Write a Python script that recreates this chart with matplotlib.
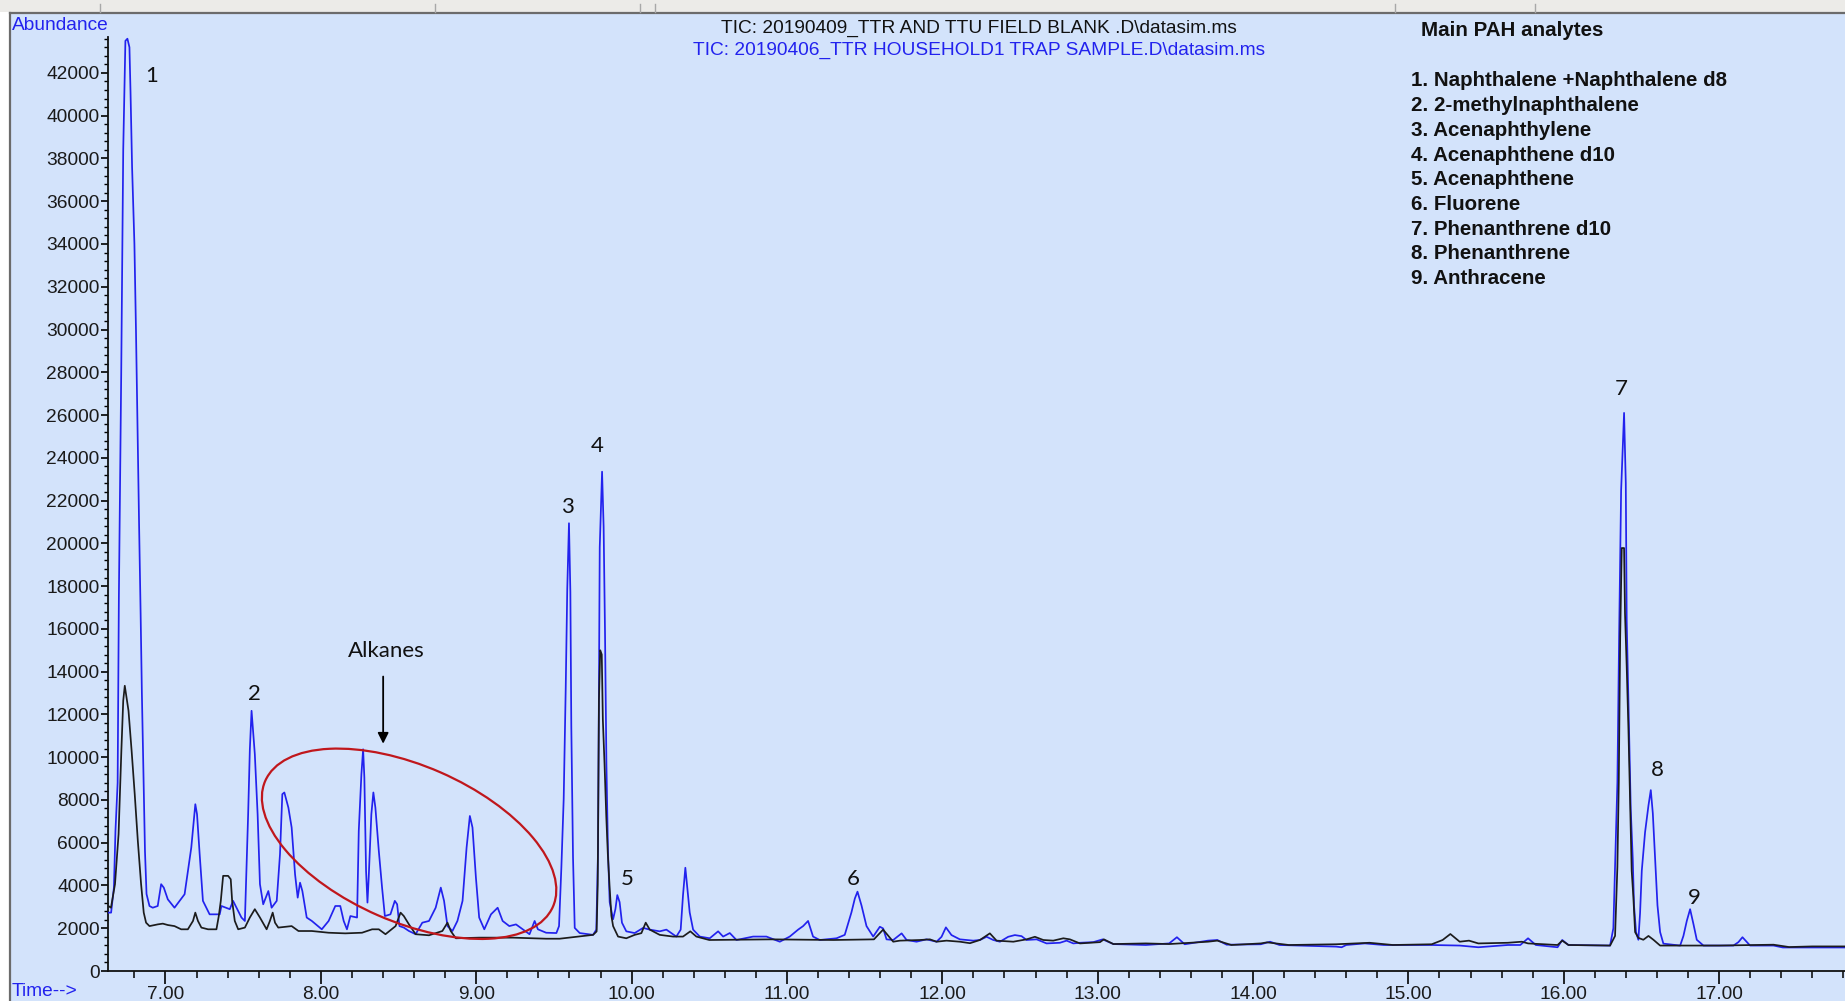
import matplotlib
matplotlib.use('Agg')
import matplotlib.pyplot as plt
from matplotlib.patches import Rectangle, Ellipse
from matplotlib.transforms import Affine2D
from matplotlib.ticker import MultipleLocator, FormatStrFormatter

# Хроматограмма: время (мин) и интенсивность
# образец (синяя линия)
sample_t = [6.62, 6.65, 6.668, 6.678, 6.692, 6.70, 6.715, 6.728, 6.742, 6.755, 6.768, 6.775, 6.785, 6.80,
            6.81, 6.82, 6.83, 6.84, 6.848, 6.858, 6.868, 6.878, 6.897, 6.918, 6.950, 6.972, 6.989, 7.015,
            7.058, 7.123, 7.166, 7.192, 7.203, 7.220, 7.241, 7.284, 7.349, 7.360, 7.414, 7.435, 7.489,
            7.511, 7.532, 7.543, 7.554, 7.565, 7.575, 7.593, 7.608, 7.629, 7.662, 7.683, 7.716, 7.737,
            7.752, 7.765, 7.791, 7.812, 7.834, 7.851, 7.866, 7.881, 7.909, 7.942, 8.006, 8.050, 8.093,
            8.125, 8.147, 8.168, 8.190, 8.233, 8.244, 8.261, 8.272, 8.280, 8.291, 8.300, 8.308, 8.325,
            8.338, 8.351, 8.373, 8.394, 8.412, 8.448, 8.476, 8.491, 8.506, 8.534, 8.567, 8.610, 8.653,
            8.696, 8.739, 8.772, 8.793, 8.815, 8.847, 8.879, 8.912, 8.938, 8.959, 8.976, 8.998, 9.019,
            9.052, 9.095, 9.138, 9.170, 9.213, 9.256, 9.300, 9.343, 9.376, 9.397, 9.45, 9.516, 9.533,
            9.548, 9.563, 9.576, 9.586, 9.597, 9.606, 9.612, 9.623, 9.634, 9.666, 9.752, 9.773, 9.784,
            9.795, 9.810, 9.820, 9.829, 9.838, 9.848, 9.859, 9.881, 9.896, 9.908, 9.923, 9.938, 9.966,
            10.020, 10.074, 10.117, 10.181, 10.224, 10.288, 10.316, 10.331, 10.346, 10.359, 10.374,
            10.396, 10.439, 10.503, 10.557, 10.589, 10.632, 10.675, 10.782, 10.868, 10.954, 11.018,
            11.072, 11.104, 11.136, 11.168, 11.211, 11.319, 11.372, 11.415, 11.437, 11.454, 11.480,
            11.512, 11.555, 11.598, 11.619, 11.641, 11.684, 11.738, 11.770, 11.834, 11.898, 11.963,
            11.995, 12.023, 12.059, 12.113, 12.199, 12.242, 12.285, 12.328, 12.371, 12.424, 12.467,
            12.510, 12.542, 12.607, 12.671, 12.757, 12.800, 12.843, 12.886, 12.972, 13.032, 13.101,
            13.31, 13.46, 13.51, 13.56, 13.71, 13.77, 13.83, 14.05, 14.11, 14.17, 14.535, 14.57, 14.60,
            14.72, 14.84, 15.15, 15.33, 15.45, 15.64, 15.72, 15.77, 15.82, 15.96, 15.99, 16.03, 16.298,
            16.319, 16.330, 16.345, 16.356, 16.369, 16.388, 16.399, 16.405, 16.420, 16.431, 16.444,
            16.452, 16.465, 16.480, 16.491, 16.502, 16.523, 16.545, 16.560, 16.573, 16.588, 16.603,
            16.620, 16.641, 16.749, 16.770, 16.792, 16.813, 16.835, 16.856, 16.899, 17.092, 17.124,
            17.150, 17.199, 17.350, 17.41, 17.478, 17.811]
sample_ab = [2730, 2730, 3900, 6550, 8800, 17500, 27900, 38400, 43500, 43600, 43200, 41100, 37600, 34000,
             30000, 25400, 20900, 16700, 13000, 9400, 5600, 3600, 3040, 2960, 3040, 4060, 3900, 3350,
             2960, 3590, 5770, 7800, 7330, 5460, 3280, 2650, 2650, 3040, 2890, 3280, 2500,
             2340, 7330, 10370, 12170, 11080, 10140, 7330, 4060, 3120, 3740, 2960, 3280, 5460,
             8270, 8350, 7640, 6710, 4520, 3430, 4130, 3740, 2500, 2340, 1950, 2340, 3040,
             3040, 2340, 1950, 2570, 2500, 6550, 9200, 10370, 9050, 4680, 3200, 4370, 7330,
             8350, 7640, 5620, 3900, 2570, 2650, 3280, 3120, 2100, 2030, 1870, 1720, 2260,
             2340, 2960, 3900, 3280, 2100, 1870, 2340, 3280, 5770, 7250, 6710, 4370, 2500,
             1950, 2650, 2960, 2340, 2100, 2180, 1950, 1720, 2340, 1950, 1790, 1775, 2100,
             4830, 8050, 13210, 17880, 20940, 17720, 11440, 5320, 2015, 1775, 1690, 1935, 5640,
             19810, 23350, 20780, 15790, 9670, 5640, 3220, 2420, 2900, 3550, 3220, 2260, 1855,
             1775, 2015, 1935, 1855, 1935, 1610, 1935, 3550, 4830, 3870, 2740,
             1935, 1610, 1530, 1855, 1610, 1775, 1450, 1610, 1610, 1370, 1610,
             1935, 2100, 2340, 1610, 1450, 1530, 1690, 2740, 3390, 3710, 3060,
             2100, 1610, 2070, 1990, 1480, 1450, 1760, 1450, 1370, 1480, 1370,
             1600, 2040, 1680, 1480, 1420, 1450, 1600, 1450, 1370, 1600, 1680,
             1630, 1450, 1480, 1290, 1320, 1420, 1290, 1320, 1350, 1480, 1260,
             1216, 1290, 1580, 1250, 1420, 1450, 1230, 1250, 1370, 1216, 1140, 1110, 1216,
             1290, 1216, 1216, 1190, 1110, 1216, 1216, 1530, 1216, 1110, 1450, 1216, 1190,
             2000, 4870, 8820, 15640, 22470, 26100, 22830, 16360, 11150, 7560, 5230,
             3070, 1820, 1460, 2710, 4690, 6480, 7740, 8460, 7380, 5230, 3070,
             1820, 1280, 1190, 1640, 2350, 2890, 2180, 1460, 1190, 1190, 1350,
             1580, 1190, 1190, 1100, 1100, 1100]

# полевой бланк (чёрная линия)
blank_t = [6.616, 6.649, 6.675, 6.698, 6.716, 6.728, 6.738, 6.746, 6.762, 6.782, 6.802, 6.822, 6.843,
           6.860, 6.875, 6.897, 6.950, 6.983, 7.015, 7.058, 7.101, 7.144, 7.177, 7.192, 7.209, 7.231,
           7.274, 7.328, 7.343, 7.356, 7.371, 7.403, 7.420, 7.429, 7.446, 7.468, 7.511, 7.543, 7.575,
           7.608, 7.651, 7.672, 7.690, 7.705, 7.726, 7.812, 7.856, 7.942, 8.050, 8.157, 8.265, 8.330,
           8.373, 8.416, 8.481, 8.513, 8.534, 8.567, 8.610, 8.696, 8.782, 8.815, 8.836, 8.869, 9.019,
           9.235, 9.450, 9.537, 9.752, 9.775, 9.782, 9.790, 9.798, 9.808, 9.815, 9.826, 9.837, 9.847,
           9.859, 9.870, 9.881, 9.913, 9.966, 10.020, 10.063, 10.091, 10.117, 10.181, 10.267, 10.331,
           10.378, 10.417, 10.50, 10.9, 11.3, 11.56, 11.619, 11.684, 11.727, 11.856, 11.920, 11.963,
           12.027, 12.113, 12.178, 12.242, 12.306, 12.349, 12.457, 12.542, 12.596, 12.650, 12.714,
           12.779, 12.821, 12.886, 13.015, 13.040, 13.101, 13.31, 13.46, 13.71, 13.77, 13.86, 14.05,
           14.09, 14.23, 14.535, 14.75, 14.90, 15.15, 15.22, 15.27, 15.33, 15.39, 15.45, 15.64, 15.73,
           15.77, 15.96, 15.99, 16.03, 16.298, 16.330, 16.345, 16.354, 16.363, 16.373, 16.388, 16.394,
           16.405, 16.416, 16.427, 16.437, 16.448, 16.459, 16.480, 16.512, 16.545, 16.577, 16.620,
           17.0, 17.35, 17.45, 17.6, 17.811]
blank_ab = [3120, 2960, 4060, 6400, 10300, 12640, 13340, 12950, 12170, 10300, 8270, 6080, 4060,
            2730, 2260, 2100, 2180, 2215, 2150, 2100, 1950, 1950, 2340, 2730, 2340, 2030,
            1950, 1950, 2570, 3280, 4450, 4450, 4290, 3280, 2340, 1950, 2030, 2500, 2890,
            2500, 1950, 2340, 2730, 2260, 2030, 2100, 1870, 1870, 1790, 1760, 1790, 1950,
            1950, 1720, 2100, 2730, 2570, 2180, 1720, 1670, 1870, 2260, 1870, 1530, 1560,
            1560, 1510, 1510, 1690, 1850, 4030, 12700, 15000, 14800, 11760, 9660, 7250, 5480,
            3870, 2580, 2100, 1610, 1530, 1690, 1770, 2260, 1935, 1690, 1610, 1610,
            1855, 1610, 1450, 1480, 1450, 1480, 1935, 1370, 1420, 1450, 1480, 1370,
            1420, 1370, 1300, 1450, 1760, 1420, 1370, 1480, 1600, 1450, 1420,
            1530, 1480, 1290, 1350, 1480, 1260, 1290, 1260, 1370, 1420, 1216, 1290,
            1340, 1216, 1250, 1320, 1216, 1250, 1450, 1730, 1370, 1420, 1290, 1320, 1370,
            1290, 1216, 1420, 1216, 1190, 1640, 4870, 8820, 15640, 19780, 19780, 16720,
            14210, 11330, 7920, 4690, 3430, 1820, 1550, 1460, 1640, 1460, 1190,
            1190, 1230, 1120, 1150, 1150]

# номера пиков: (время, высота подписи)
peak_names = ['1', '2', '3', '4', '5', '6', '7', '8', '9']
peak_t = [6.91, 7.575, 9.59, 9.78, 9.97, 11.424, 16.372, 16.60, 16.842]
peak_ab = [41840, 12940, 21690, 24550, 4300, 4300, 27200, 9420, 3420]

analytes = ['1. Naphthalene +Naphthalene d8', '2. 2-methylnaphthalene', '3. Acenaphthylene',
            '4. Acenaphthene d10', '5. Acenaphthene', '6. Fluorene', '7. Phenanthrene d10',
            '8. Phenanthrene', '9. Anthracene']

title_blank = 'TIC: 20190409_TTR AND TTU FIELD BLANK .D\\datasim.ms'
title_sample = 'TIC: 20190406_TTR HOUSEHOLD1 TRAP SAMPLE.D\\datasim.ms'

W, H = 1845, 1001
BG = '#d3e3fb'
BLUE = '#2222ee'
FS = 13.8

fig = plt.figure(figsize=(W / 100, H / 100), dpi=100)
fig.patch.set_facecolor('white')

# фон окна (под осями)
fig.patches.append(Rectangle((10 / W, 0), 1, (H - 13) / H, transform=fig.transFigure,
                             facecolor=BG, edgecolor='none', zorder=-2))
fig.patches.append(Rectangle((0, (H - 12) / H), 1, 12 / H, transform=fig.transFigure,
                             facecolor='#ecebe8', edgecolor='none', zorder=-2))
fig.lines.append(plt.Line2D([10 / W, 1], [(H - 13) / H] * 2, transform=fig.transFigure,
                            color='#6b6b6b', lw=1.6, zorder=-1))
fig.lines.append(plt.Line2D([9.5 / W] * 2, [0, (H - 13) / H], transform=fig.transFigure,
                            color='#6b6b6b', lw=1.6, zorder=-1))
for px in [100, 435, 640, 655, 1395, 1535]:
    fig.lines.append(plt.Line2D([px / W] * 2, [(H - 12) / H, (H - 4) / H],
                                transform=fig.transFigure, color='#a8a8a8', lw=1, zorder=-1))

ax = fig.add_axes([108 / W, 30 / H, 1 - 108 / W, (971 - 37) / H])
ax.patch.set_visible(False)
ax.set_xlim(6.63, 17.81)
ax.set_ylim(0, 43680)

ax.plot(sample_t, sample_ab, color=BLUE, lw=1.25, zorder=3)
ax.plot(blank_t, blank_ab, color='#1c1c1c', lw=1.25, zorder=4)

for s in ['top', 'right']:
    ax.spines[s].set_visible(False)
for s in ['left', 'bottom']:
    ax.spines[s].set_linewidth(1.3)
    ax.spines[s].set_color('#111111')

ax.xaxis.set_major_locator(MultipleLocator(1))
ax.xaxis.set_minor_locator(MultipleLocator(0.2))
ax.xaxis.set_major_formatter(FormatStrFormatter('%.2f'))
ax.yaxis.set_major_locator(MultipleLocator(2000))
ax.yaxis.set_minor_locator(MultipleLocator(400))
ax.tick_params(axis='x', which='major', length=9, width=1.2, pad=2, labelsize=FS,
               labelcolor='#1a1a1a', labelfontfamily='Liberation Sans')
ax.tick_params(axis='x', which='minor', length=5, width=1.1)
ax.tick_params(axis='y', which='major', length=5, width=1.2, pad=1, labelsize=FS,
               labelcolor='#1a1a1a', labelfontfamily='Liberation Sans')
ax.tick_params(axis='y', which='minor', length=3, width=1)

fig.text(12 / W, 1 - 25 / H, 'Abundance', color=BLUE, fontsize=FS, family='Liberation Sans',
         ha='left', va='center')
fig.text(12 / W, 1 - 992 / H, 'Time-->', color=BLUE, fontsize=FS, family='Liberation Sans',
         ha='left', va='center')

fig.text(979 / W, 1 - 28 / H, title_blank, color='#111111', fontsize=FS,
         family='Liberation Sans', ha='center', va='center')
fig.text(979 / W, 1 - 50 / H, title_sample, color=BLUE, fontsize=FS,
         family='Liberation Sans', ha='center', va='center')

# список аналитов
fig.text(1421 / W, 1 - 30 / H, 'Main PAH analytes', fontsize=14.8, weight='bold',
         family='Liberation Sans', color='#111111', ha='left', va='center')
for i in range(len(analytes)):
    fig.text(1411 / W, 1 - (81 + i * 24.7) / H, analytes[i], fontsize=14.8, weight='bold',
             family='Liberation Sans', color='#111111', ha='left', va='center')

# подписи пиков
for i in range(len(peak_names)):
    ax.text(peak_t[i], peak_ab[i], peak_names[i], fontsize=16, family='Lato',
            color='#111111', ha='center', va='center')

ax.text(8.424, 14980, 'Alkanes', fontsize=16, family='Lato', color='#111111',
        ha='center', va='center')
ax.annotate('', xy=(8.401, 10500), xytext=(8.401, 13900),
            arrowprops=dict(arrowstyle='-|>', color='black', lw=1.3, mutation_scale=16))

# красный эллипс вокруг алканов (в пикселях)
cx, cy = ax.transData.transform((8.568, 5950))
ell = Ellipse((0, 0), 314, 156, angle=-23.6, fill=False, edgecolor='#c0171c', lw=1.6,
              transform=Affine2D().translate(cx, cy), zorder=5)
fig.patches.append(ell)

fig.savefig('out.png', dpi=100, facecolor=fig.get_facecolor())
